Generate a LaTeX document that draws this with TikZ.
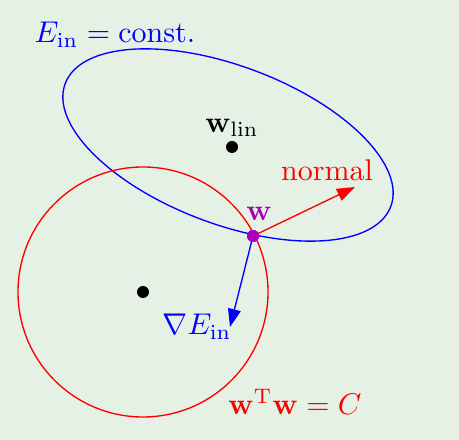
\documentclass[tikz,border=0pt]{standalone}
\usetikzlibrary{arrows.meta}
\definecolor{bg}{RGB}{230,241,229}
\definecolor{wpurple}{RGB}{170,0,190}
\begin{document}
\begin{tikzpicture}[x=0.3333pt,y=0.3333pt,
  curve/.style={line width=0.45pt},
  dot/.style={circle,fill=black,inner sep=0pt,minimum size=4pt},
  arr/.style={line width=0.45pt,-{Triangle[length=6pt,width=4.3pt]}},
  lbl/.style={inner sep=0pt}]
\fill[bg] (0,0) rectangle (459,440);
\useasboundingbox (0,0) rectangle (459,440);
% level set ellipse
\draw[curve,blue] (228,295) ellipse[x radius=174, y radius=79, rotate=-20.7];
% constraint circle
\draw[curve,red] (143,148) circle[radius=125];
% points
\coordinate (ntip) at (355,253);
\coordinate (gtip) at (230,113);
\node[dot] (wlin) at (232,293) {};
\node[dot] (orig) at (143,148) {};
\node[dot,fill=wpurple] (w) at (253,204) {};
\draw[arr,red] (w.center) -- (ntip);
\draw[arr,blue] (w.center) -- (gtip);
\node[dot,fill=wpurple] at (w) {};
% labels
\node[lbl,blue] (econst) at (115,405) {$E_{\rm in} = \rm const.$};
\node[lbl] (wlinlbl) at (232,312) {$\mathbf{w}_{\rm lin}$};
\node[lbl,red] (normal) at (327,270) {normal};
\node[lbl,text=wpurple] (wlbl) at (259,226) {$\mathbf{w}$};
\node[lbl,blue] (grad) at (197,113) {$\nabla E_{\rm in}$};
\node[lbl,red] (constr) at (295,38) {$\mathbf{w}^{\rm T}\mathbf{w} = C$};
\end{tikzpicture}
\end{document}
